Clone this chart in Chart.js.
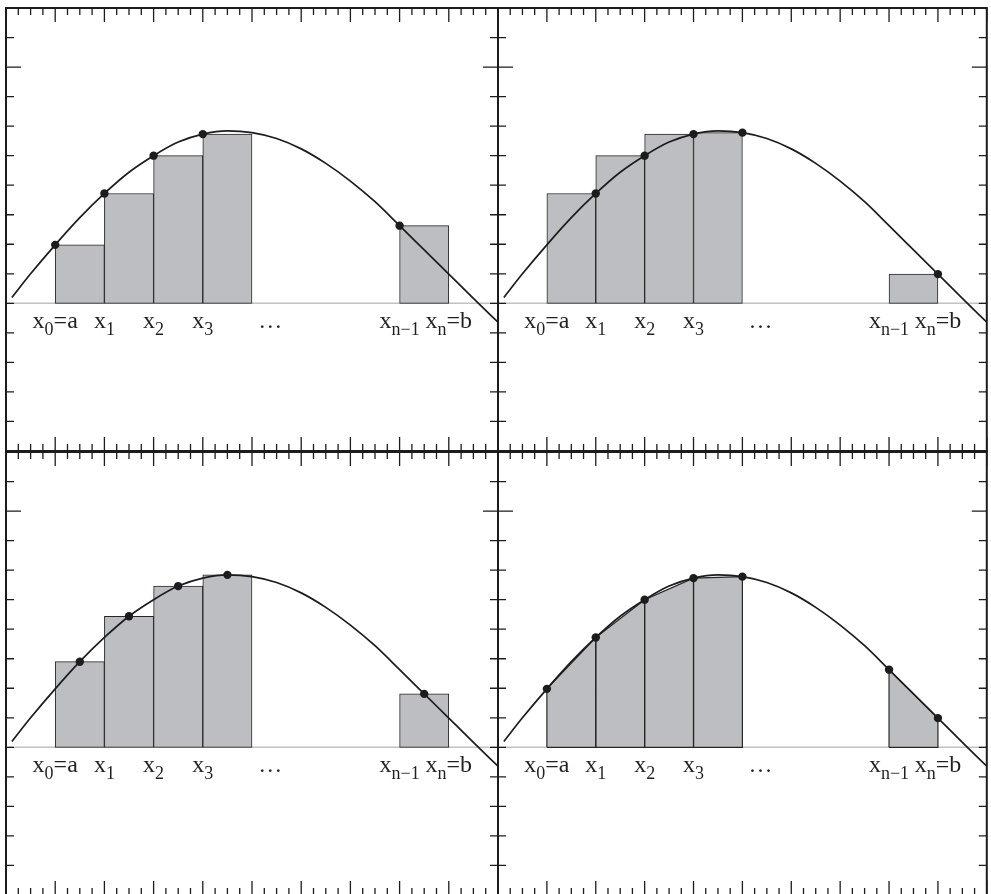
<!DOCTYPE html>
<html><head><meta charset="utf-8">
<script src="https://cdn.jsdelivr.net/npm/chart.js@4.4.0/dist/chart.umd.min.js"></script>
<style>
html,body{margin:0;padding:0;background:#fff;overflow:hidden;width:991px;height:894px;}
canvas{position:absolute;left:0;top:0;}
</style></head><body>
<canvas id="c0" width="991" height="900"></canvas>
<canvas id="c1" width="991" height="900"></canvas>
<canvas id="c2" width="991" height="900"></canvas>
<canvas id="c3" width="991" height="900"></canvas>
<script>
// ---- data (x in subinterval units, y in tick units) ----
const curveX = [0.12, 0.5, 1, 1.5, 2, 2.5, 3, 3.5, 4, 4.5, 5, 5.5, 6, 6.5, 7, 7.5, 8, 8.5, 9, 9.5, 10];
const curveY = [0.20, 1.00, 1.98, 2.90, 3.72, 4.44, 5.00, 5.46, 5.73, 5.84, 5.78, 5.58, 5.23, 4.74, 4.14, 3.44, 2.63, 1.81, 0.99, 0.17, -0.64];

const barCenters   = [1.5, 2.5, 3.5, 4.5, 8.5];
const leftHeights  = [1.98, 3.72, 5.00, 5.73, 2.63];
const rightHeights = [3.72, 5.00, 5.73, 5.78, 0.99];
const midHeights   = [2.90, 4.44, 5.46, 5.84, 1.81];

const leftPointX  = [1, 2, 3, 4, 8];
const rightPointX = [2, 3, 4, 5, 9];
const midPointX   = [1.5, 2.5, 3.5, 4.5, 8.5];

const trapX = [1, 2, 3, 4, 5, 8, 9];
const trapY = [1.98, 3.72, 5.00, 5.73, 5.78, 2.63, 0.99];
const trapPairs = [[0, 1], [1, 2], [2, 3], [3, 4], [5, 6]];
const trapGroups = [[0, 4], [5, 6]];

const labelPos    = [1, 2, 3, 4, 8, 9];
const labelMain   = ['x', 'x', 'x', 'x', 'x', 'x'];
const labelSub    = ['0', '1', '2', '3', 'n\u22121', 'n'];
const labelSuffix = ['=a', '', '', '', '', '=b'];
const dotsPos = 5.37;
const dotsText = '\u2026';

// ---- styles ----
const INK = '#1c1c1c';
const BAR_FILL = '#bdbec1';
const BAR_EDGE = '#262626';
const AXIS_GRAY = '#c2c2c2';
const MAIN_FONT = "24px 'Liberation Serif', serif";
const SUB_FONT = "18px 'Liberation Serif', serif";

const X_MINOR = 0.25, Y_MINOR = 1;

const framePlugin = {
  id: 'frame',
  afterDatasetsDraw(chart) {
    const {ctx, chartArea: a, scales: {x, y}} = chart;
    ctx.save();
    ctx.strokeStyle = INK;
    ctx.lineWidth = 1.3;
    ctx.beginPath();
    for (let v = x.min; v <= x.max + 1e-9; v += X_MINOR) {
      const px = x.getPixelForValue(v);
      const major = Math.abs(v - Math.round(v)) < 1e-6;
      const L = major ? 14 : 7;
      ctx.moveTo(px, a.top); ctx.lineTo(px, a.top + L);
      ctx.moveTo(px, a.bottom); ctx.lineTo(px, a.bottom - L);
    }
    for (let v = y.min; v <= y.max + 1e-9; v += Y_MINOR) {
      const py = y.getPixelForValue(v);
      const major = Math.abs(v - 8) < 1e-6;
      const L = major ? 15 : 8;
      ctx.moveTo(a.left, py); ctx.lineTo(a.left + L, py);
      ctx.moveTo(a.right, py); ctx.lineTo(a.right - L, py);
    }
    ctx.stroke();
    ctx.lineWidth = 2;
    ctx.strokeRect(a.left, a.top, a.width, a.height);

    // labels under the axis
    const base = y.getPixelForValue(0) + 25;
    ctx.fillStyle = '#231f20';
    ctx.textAlign = 'left';
    ctx.textBaseline = 'alphabetic';
    for (let i = 0; i < labelPos.length; i++) {
      const cx = x.getPixelForValue(labelPos[i]);
      ctx.font = MAIN_FONT;
      const w1 = ctx.measureText(labelMain[i]).width;
      const w3 = ctx.measureText(labelSuffix[i]).width;
      ctx.font = SUB_FONT;
      const w2 = ctx.measureText(labelSub[i]).width;
      let xx = cx - (w1 + w2 + w3) / 2;
      ctx.font = MAIN_FONT; ctx.fillText(labelMain[i], xx, base); xx += w1;
      ctx.font = SUB_FONT; ctx.fillText(labelSub[i], xx, base + 7); xx += w2;
      ctx.font = MAIN_FONT; ctx.fillText(labelSuffix[i], xx, base);
    }
    ctx.font = MAIN_FONT;
    ctx.textAlign = 'center';
    ctx.fillText(dotsText, x.getPixelForValue(dotsPos), base);
    ctx.restore();
  }
};

function curveDataset() {
  return {type: 'line', data: curveX.map((v, i) => ({x: v, y: curveY[i]})),
    borderColor: INK, borderWidth: 1.7, pointRadius: 0, cubicInterpolationMode: 'monotone', order: 1};
}
function axisDataset() {
  return {type: 'line', data: [{x: 0, y: 0}, {x: 10, y: 0}],
    borderColor: AXIS_GRAY, borderWidth: 1.5, pointRadius: 0, order: 6};
}
function barDataset(h) {
  return {type: 'bar', data: barCenters.map((v, i) => ({x: v, y: h[i]})),
    backgroundColor: BAR_FILL, borderColor: BAR_EDGE, borderWidth: 1, borderSkipped: false,
    barPercentage: 1, categoryPercentage: 1, order: 3};
}
function pointDataset(xs, ys) {
  return {type: 'scatter', data: xs.map((v, i) => ({x: v, y: ys[i]})),
    backgroundColor: INK, borderWidth: 0, pointRadius: 4.2, order: 0};
}
function trapDatasets() {
  const ds = [];
  trapGroups.forEach(([s, e]) => {
    const pts = [];
    for (let i = s; i <= e; i++) pts.push({x: trapX[i], y: trapY[i]});
    ds.push({type: 'line', data: pts, fill: 'origin', backgroundColor: BAR_FILL,
      borderWidth: 0, borderColor: 'rgba(0,0,0,0)', pointRadius: 0, order: 4});
  });
  trapPairs.forEach(([i, j]) => {
    ds.push({type: 'line', data: [
      {x: trapX[i], y: 0}, {x: trapX[i], y: trapY[i]}, {x: trapX[j], y: trapY[j]},
      {x: trapX[j], y: 0}, {x: trapX[i], y: 0}],
      borderColor: BAR_EDGE, borderWidth: 1.2, pointRadius: 0, fill: false, order: 3});
  });
  return ds;
}

function makeChart(id, pad, datasets) {
  return new Chart(document.getElementById(id), {
    type: 'scatter',
    data: {datasets},
    options: {
      responsive: false, animation: false, devicePixelRatio: 1, events: [],
      layout: {padding: pad},
      plugins: {legend: {display: false}, tooltip: {enabled: false}},
      scales: {
        x: {type: 'linear', min: 0, max: 10, display: false, offset: false,
            grid: {offset: false}, ticks: {stepSize: 1}},
        y: {type: 'linear', min: -5, max: 10, display: false, ticks: {stepSize: 1}}
      }
    },
    plugins: [framePlugin]
  });
}

const leftY = leftPointX.map(v => trapY[trapX.indexOf(v)]);
const rightY = rightPointX.map(v => trapY[trapX.indexOf(v)]);

makeChart('c0', {left: 6, top: 8, right: 493, bottom: 449},
  [pointDataset(leftPointX, leftY), curveDataset(), barDataset(leftHeights), axisDataset()]);
makeChart('c1', {left: 498, top: 8, right: 1, bottom: 449},
  [pointDataset(rightPointX, rightY), curveDataset(), barDataset(rightHeights), axisDataset()]);
makeChart('c2', {left: 6, top: 452, right: 493, bottom: 5},
  [pointDataset(midPointX, midHeights), curveDataset(), barDataset(midHeights), axisDataset()]);
makeChart('c3', {left: 498, top: 452, right: 1, bottom: 5},
  [pointDataset(trapX, trapY), curveDataset(), ...trapDatasets(), axisDataset()]);
</script>
</body></html>
